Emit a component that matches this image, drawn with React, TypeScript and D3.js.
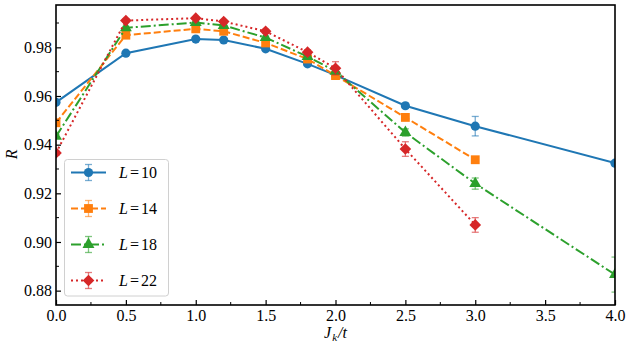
import React, { useRef, useEffect } from 'react';
import * as d3 from 'd3';

// J_k / t values
const xsLong = [0, 0.5, 1.0, 1.2, 1.5, 1.8, 2.0, 2.5, 3.0, 4.0];
const xsMid = [0, 0.5, 1.0, 1.2, 1.5, 1.8, 2.0, 2.5, 3.0];

const r10 = [0.9574, 0.9776, 0.9834, 0.9830, 0.9794, 0.9732, 0.9686, 0.9560, 0.9476, 0.9324];
const e10 = [0.0006, 0.0006, 0.0005, 0.0005, 0.0006, 0.0006, 0.0008, 0.0010, 0.0040, 0.0010];

const r14 = [0.9490, 0.9850, 0.9876, 0.9866, 0.9818, 0.9752, 0.9684, 0.9512, 0.9338];
const e14 = [0.0008, 0.0006, 0.0005, 0.0005, 0.0006, 0.0008, 0.0010, 0.0012, 0.0010];

const r18 = [0.9434, 0.9880, 0.9902, 0.9890, 0.9840, 0.9762, 0.9702, 0.9450, 0.9240, 0.8866];
const e18 = [0.0008, 0.0006, 0.0005, 0.0005, 0.0006, 0.0008, 0.0012, 0.0015, 0.0023, 0.0072];

const r22 = [0.9366, 0.9910, 0.9920, 0.9906, 0.9866, 0.9780, 0.9714, 0.9382, 0.9070];
const e22 = [0.0010, 0.0006, 0.0006, 0.0006, 0.0008, 0.0010, 0.0027, 0.0030, 0.0030];

const labels = ['10', '14', '18', '22'];
const xTicks = [0, 0.5, 1.0, 1.5, 2.0, 2.5, 3.0, 3.5, 4.0];
const yTicks = [0.88, 0.9, 0.92, 0.94, 0.96, 0.98];

const App = () => {
    const svgRef = useRef<SVGSVGElement>(null);

    useEffect(() => {
        document.body.style.margin = '0';
        const w = 631;
        const h = 347;
        const m = { left: 56, right: 16, top: 5, bottom: 42 };
        const svg = d3.select(svgRef.current).attr('width', w).attr('height', h);
        svg.selectAll('*').remove();

        const font = "'Liberation Serif', 'Times New Roman', Times, 'DejaVu Serif', serif";

        const x = d3.scaleLinear().domain([0, 4]).range([m.left, w - m.right]);
        const y = d3.scaleLinear().domain([0.8741, 0.9974]).range([h - m.bottom, m.top]);

        const series = [
            { xs: xsLong, ys: r10, es: e10, color: '#1f77b4', dash: null, sym: 'circle' },
            { xs: xsMid, ys: r14, es: e14, color: '#ff7f0e', dash: '7,3', sym: 'square' },
            { xs: xsLong, ys: r18, es: e18, color: '#2ca02c', dash: '10,3,2,3', sym: 'triangle' },
            { xs: xsMid, ys: r22, es: e22, color: '#d62728', dash: '2,3', sym: 'diamond' },
        ];

        const symbolPath = (s: string) => {
            if (s === 'circle') return d3.symbol(d3.symbolCircle, 66)();
            if (s === 'square') return d3.symbol(d3.symbolSquare, 78)();
            if (s === 'triangle') return d3.symbol(d3.symbolTriangle, 62)();
            return d3.symbol(d3.symbolSquare, 68)();
        };

        svg.append('defs').append('clipPath').attr('id', 'plotclip')
            .append('rect')
            .attr('x', m.left).attr('y', m.top)
            .attr('width', w - m.left - m.right).attr('height', h - m.top - m.bottom);

        const plot = svg.append('g').attr('clip-path', 'url(#plotclip)');

        const line = d3.line<[number, number]>().x(d => x(d[0])).y(d => y(d[1]));

        series.forEach(s => {
            const pts = s.xs.map((v, i) => [v, s.ys[i]] as [number, number]);
            const g = plot.append('g');
            g.append('path')
                .attr('d', line(pts))
                .attr('fill', 'none')
                .attr('stroke', s.color)
                .attr('stroke-width', 2)
                .attr('stroke-dasharray', s.dash);

            // error bars
            pts.forEach((p, i) => {
                const e = s.es[i];
                const cx = x(p[0]);
                const eg = g.append('g').attr('stroke', s.color).attr('stroke-opacity', 0.6).attr('stroke-width', 1.3);
                eg.append('line').attr('x1', cx).attr('x2', cx).attr('y1', y(p[1] - e)).attr('y2', y(p[1] + e));
                eg.append('line').attr('x1', cx - 3.5).attr('x2', cx + 3.5).attr('y1', y(p[1] - e)).attr('y2', y(p[1] - e));
                eg.append('line').attr('x1', cx - 3.5).attr('x2', cx + 3.5).attr('y1', y(p[1] + e)).attr('y2', y(p[1] + e));
            });

            g.selectAll('.mk')
                .data(pts)
                .join('path')
                .attr('d', symbolPath(s.sym))
                .attr('transform', d => `translate(${x(d[0])},${y(d[1])})${s.sym === 'diamond' ? ' rotate(45)' : ''}`)
                .attr('fill', s.color);
        });

        // axes frame
        svg.append('rect')
            .attr('x', m.left).attr('y', m.top)
            .attr('width', w - m.left - m.right).attr('height', h - m.top - m.bottom)
            .attr('fill', 'none').attr('stroke', '#000').attr('stroke-width', 1.6);

        const xAxis = d3.axisBottom(x).tickValues(xTicks).tickFormat(d3.format('.1f')).tickSizeInner(-5).tickSizeOuter(0).tickPadding(5);
        const gx = svg.append('g').attr('transform', `translate(0,${h - m.bottom})`).call(xAxis);
        const yAxis = d3.axisLeft(y).tickValues(yTicks).tickFormat(d3.format('.2f')).tickSizeInner(-5).tickSizeOuter(0).tickPadding(4);
        const gy = svg.append('g').attr('transform', `translate(${m.left},0)`).call(yAxis);

        // minor ticks
        const xMinor = d3.range(0.25, 4, 0.5);
        svg.append('g').selectAll('line').data(xMinor).join('line')
            .attr('x1', d => x(d)).attr('x2', d => x(d))
            .attr('y1', h - m.bottom).attr('y2', h - m.bottom - 3)
            .attr('stroke', '#000').attr('stroke-width', 1);
        const yMinor = [0.87, 0.89, 0.91, 0.93, 0.95, 0.97, 0.99].filter(v => v > 0.8741 && v < 0.9974);
        svg.append('g').selectAll('line').data(yMinor).join('line')
            .attr('x1', m.left).attr('x2', m.left + 3)
            .attr('y1', d => y(d)).attr('y2', d => y(d))
            .attr('stroke', '#000').attr('stroke-width', 1);

        [gx, gy].forEach(g => {
            g.attr('font-family', null);
            g.select('.domain').remove();
            g.selectAll('.tick line').attr('stroke-width', 1.2);
            g.selectAll('text').style('font-family', font).attr('font-size', 16).attr('fill', '#000');
        });

        // axis labels
        const xl = svg.append('text')
            .attr('x', x(2)).attr('y', 338)
            .attr('text-anchor', 'middle')
            .style('font-family', font).attr('font-size', 16).attr('font-style', 'italic');
        xl.append('tspan').text('J');
        xl.append('tspan').attr('font-size', 11).attr('dx', 1).attr('dy', 3).text('k');
        xl.append('tspan').attr('dx', 1).attr('dy', -3).text('/t');

        svg.append('text')
            .attr('transform', `translate(17,${y(0.936)}) rotate(-90)`)
            .attr('text-anchor', 'middle')
            .style('font-family', font).attr('font-size', 16).attr('font-style', 'italic')
            .text('R');

        // legend
        const lg = svg.append('g');
        lg.append('rect')
            .attr('x', 64.5).attr('y', 159.5).attr('width', 104).attr('height', 136.5)
            .attr('rx', 3)
            .attr('fill', '#fff').attr('fill-opacity', 0.8)
            .attr('stroke', '#d0d0d0').attr('stroke-width', 1);

        series.forEach((s, i) => {
            const cy = 172.5 + i * 36;
            const row = lg.append('g');
            row.append('line')
                .attr('x1', 71).attr('x2', 106).attr('y1', cy).attr('y2', cy)
                .attr('stroke', s.color).attr('stroke-width', 2)
                .attr('stroke-dasharray', s.dash);
            const eg = row.append('g').attr('stroke', s.color).attr('stroke-opacity', 0.6).attr('stroke-width', 1.3);
            eg.append('line').attr('x1', 88.5).attr('x2', 88.5).attr('y1', cy - 8).attr('y2', cy + 8);
            eg.append('line').attr('x1', 85).attr('x2', 92).attr('y1', cy - 8).attr('y2', cy - 8);
            eg.append('line').attr('x1', 85).attr('x2', 92).attr('y1', cy + 8).attr('y2', cy + 8);
            row.append('path')
                .attr('d', symbolPath(s.sym))
                .attr('transform', `translate(88.5,${cy})${s.sym === 'diamond' ? ' rotate(45)' : ''}`)
                .attr('fill', s.color);
            const t = row.append('text')
                .attr('x', 119).attr('y', cy + 5.5)
                .style('font-family', font).attr('font-size', 16);
            t.append('tspan').attr('font-style', 'italic').text('L');
            t.append('tspan').attr('dx', 2).text('=');
            t.append('tspan').attr('dx', 2).text(labels[i]);
        });
    }, []);

    return (
        <div>
            <svg ref={svgRef}></svg>
        </div>
    );
};

export default App;
